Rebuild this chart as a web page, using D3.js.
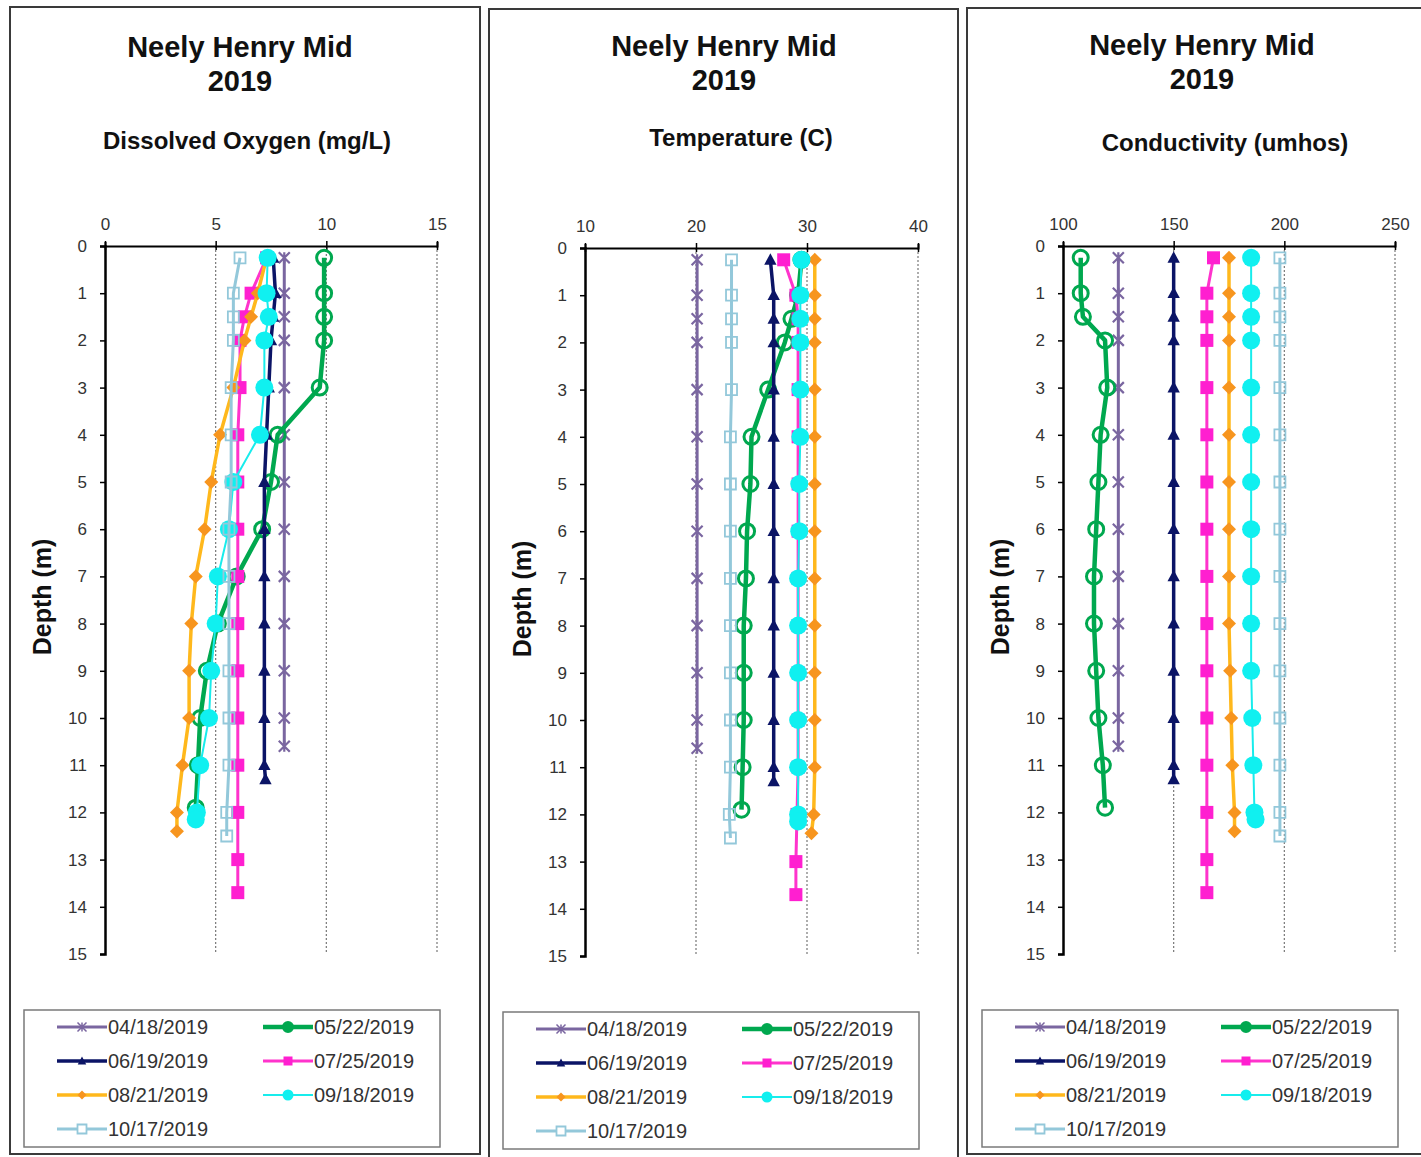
<!DOCTYPE html>
<html>
<head>
<meta charset="utf-8">
<script src="https://cdn.jsdelivr.net/npm/d3@7"></script>
<style>
  body { margin: 0; background: #fff; }
  svg text { font-family: "Liberation Sans", Arial, sans-serif; }
</style>
</head>
<body>
<svg id="chart" width="1421" height="1157"></svg>
<script>
// ---- data ----
const dates = ["04/18/2019", "05/22/2019", "06/19/2019", "07/25/2019",
               "08/21/2019", "09/18/2019", "10/17/2019"];

const depthTicks = [0, 1, 2, 3, 4, 5, 6, 7, 8, 9, 10, 11, 12, 13, 14, 15];
const doTicks = [0, 5, 10, 15];
const tempTicks = [10, 20, 30, 40];
const condTicks = [100, 150, 200, 250];

// depths (m) of each profile
const depth0418 = [0.25, 1, 1.5, 2, 3, 4, 5, 6, 7, 8, 9, 10, 10.6];
const depth0522 = [0.25, 1, 1.5, 2, 3, 4, 5, 6, 7, 8, 9, 10, 11, 11.9];
const depth0619 = [0.25, 1, 1.5, 2, 3, 4, 5, 6, 7, 8, 9, 10, 11, 11.3];
const depth0725 = [0.25, 1, 1.5, 2, 3, 4, 5, 6, 7, 8, 9, 10, 11, 12, 13, 13.7];
const depth0821 = [0.25, 1, 1.5, 2, 3, 4, 5, 6, 7, 8, 9, 10, 11, 12, 12.4];
const depth0918 = [0.25, 1, 1.5, 2, 3, 4, 5, 6, 7, 8, 9, 10, 11, 12, 12.15];
const depth1017 = [0.25, 1, 1.5, 2, 3, 4, 5, 6, 7, 8, 9, 10, 11, 12, 12.5];

// dissolved oxygen (mg/L)
const do0418 = [8.1, 8.1, 8.1, 8.1, 8.1, 8.1, 8.1, 8.1, 8.1, 8.1, 8.1, 8.1, 8.1];
const do0522 = [9.9, 9.9, 9.9, 9.9, 9.7, 7.8, 7.5, 7.1, 5.95, 5.1, 4.6, 4.3, 4.2, 4.1];
const do0619 = [7.6, 7.7, 7.6, 7.5, 7.4, 7.3, 7.2, 7.2, 7.2, 7.2, 7.2, 7.2, 7.2, 7.25];
const do0725 = [7.3, 6.6, 6.3, 6.1, 6.1, 6.0, 6.0, 6.0, 6.0, 6.0, 6.0, 6.0, 6.0, 6.0, 6.0, 6.0];
const do0821 = [7.3, 6.9, 6.6, 6.3, 5.8, 5.2, 4.8, 4.5, 4.1, 3.9, 3.8, 3.8, 3.5, 3.25, 3.25];
const do0918 = [7.35, 7.3, 7.4, 7.2, 7.2, 7.0, 5.8, 5.6, 5.1, 5.0, 4.8, 4.7, 4.3, 4.15, 4.1];
const do1017 = [6.1, 5.8, 5.8, 5.8, 5.7, 5.7, 5.7, 5.6, 5.6, 5.6, 5.6, 5.6, 5.6, 5.5, 5.5];

// temperature (C)
const temp0418 = [20.1, 20.1, 20.1, 20.1, 20.1, 20.1, 20.1, 20.1, 20.1, 20.1, 20.1, 20.1, 20.1];
const temp0522 = [29.5, 29.2, 28.6, 28.0, 26.5, 25.0, 24.9, 24.6, 24.5, 24.3, 24.3, 24.3, 24.2, 24.1];
const temp0619 = [26.7, 27.0, 27.0, 27.0, 27.0, 27.0, 27.0, 27.0, 27.0, 27.0, 27.0, 27.0, 27.0, 27.0];
const temp0725 = [27.9, 29.0, 29.2, 29.2, 29.2, 29.2, 29.2, 29.2, 29.2, 29.2, 29.2, 29.2, 29.2, 29.1, 29.0, 29.0];
const temp0821 = [30.7, 30.7, 30.7, 30.7, 30.7, 30.7, 30.7, 30.7, 30.7, 30.7, 30.7, 30.7, 30.7, 30.6, 30.4];
const temp0918 = [29.5, 29.4, 29.4, 29.4, 29.4, 29.4, 29.3, 29.3, 29.2, 29.2, 29.2, 29.2, 29.2, 29.2, 29.2];
const temp1017 = [23.2, 23.2, 23.2, 23.2, 23.2, 23.1, 23.1, 23.1, 23.1, 23.1, 23.1, 23.1, 23.1, 23.0, 23.1];

// conductivity (umhos)
const cond0418 = [125, 125, 125, 125, 125, 125, 125, 125, 125, 125, 125, 125, 125];
const cond0522 = [108, 108, 109, 119, 120, 117, 116, 115, 114, 114, 115, 116, 118, 119];
const cond0619 = [150, 150, 150, 150, 150, 150, 150, 150, 150, 150, 150, 150, 150, 150];
const cond0725 = [168, 165, 165, 165, 165, 165, 165, 165, 165, 165, 165, 165, 165, 165, 165, 165];
const cond0821 = [175, 175, 175, 175, 175, 175, 175, 175, 175, 175, 175.5, 176, 176.5, 177.5, 177.5];
const cond0918 = [185, 185, 185, 185, 185, 185, 185, 185, 185, 185, 185, 185.5, 186, 186.5, 187];
const cond1017 = [198, 198, 198, 198, 198, 198, 198, 198, 198, 198, 198, 198, 198, 198, 198];

const depthsByDate = [depth0418, depth0522, depth0619, depth0725, depth0821, depth0918, depth1017];
const valuesByParam = {
  do:   [do0418, do0522, do0619, do0725, do0821, do0918, do1017],
  temp: [temp0418, temp0522, temp0619, temp0725, temp0821, temp0918, temp1017],
  cond: [cond0418, cond0522, cond0619, cond0725, cond0821, cond0918, cond1017]
};

// ---- styling ----
const seriesStyle = [
  {color: "#7a66a0", mark: "#7a66a0", width: 3,   marker: "star"},
  {color: "#00a84f", mark: "#00a84f", width: 4.5, marker: "ring"},
  {color: "#0b1466", mark: "#0b1466", width: 3.5, marker: "triangle"},
  {color: "#ff33cc", mark: "#ff1fd0", width: 3,   marker: "square"},
  {color: "#ffb81c", mark: "#f7951e", width: 3.5, marker: "diamond"},
  {color: "#18ecec", mark: "#10f0f0", width: 2,   marker: "dot"},
  {color: "#93c8da", mark: "#93c8da", width: 3,   marker: "opensquare"}
];

const panels = [
  {param: "do", ticks: doTicks, box: [10, 7, 480, 1154], plot: [105, 246, 437, 954],
   titleX: 240, titleY: 57, subtitle: "Dissolved Oxygen (mg/L)", subX: 247, subY: 149, legend: [24, 1010]},
  {param: "temp", ticks: tempTicks, box: [489, 9, 958, 1162], plot: [585, 248, 918, 956],
   titleX: 724, titleY: 56, subtitle: "Temperature (C)", subX: 741, subY: 146, legend: [503, 1012]},
  {param: "cond", ticks: condTicks, box: [967, 8, 1430, 1154], plot: [1063, 246, 1395, 954],
   titleX: 1202, titleY: 55, subtitle: "Conductivity (umhos)", subX: 1225, subY: 151, legend: [982, 1010]}
];

function markerPath(type, s) {
  switch (type) {
    case "star":
      return `M${-s},${-s}L${s},${s}M${-s},${s}L${s},${-s}M0,${-s}L0,${s}`;
    case "ring":
    case "dot":
      return `M${s},0A${s},${s} 0 1,1 ${-s},0A${s},${s} 0 1,1 ${s},0Z`;
    case "triangle":
      return `M0,${-s}L${s * 0.95},${s * 0.75}L${-s * 0.95},${s * 0.75}Z`;
    case "square":
    case "opensquare":
      return `M${-s},${-s}H${s}V${s}H${-s}Z`;
    case "diamond":
      return `M0,${-s}L${s},0L0,${s}L${-s},0Z`;
  }
}

const markerSize = {star: 5.5, ring: 7.5, triangle: 6.5, square: 6.5, diamond: 7, dot: 9, opensquare: 5.5};

function styleMarker(sel, st, small) {
  const t = st.marker;
  if (t === "star") {
    sel.attr("fill", "none").attr("stroke", st.mark).attr("stroke-width", small ? 1.5 : 2.2);
  } else if (t === "ring") {
    sel.attr("fill", small ? st.mark : "none").attr("stroke", st.mark).attr("stroke-width", 3);
  } else if (t === "opensquare") {
    sel.attr("fill", small ? "#fff" : "none").attr("stroke", st.mark).attr("stroke-width", 1.8);
  } else {
    sel.attr("fill", st.mark).attr("stroke", "none");
  }
}

const svg = d3.select("#chart");

function renderPanel(p) {
  const g = svg.append("g");

  g.append("rect")
    .attr("x", p.box[0]).attr("y", p.box[1])
    .attr("width", p.box[2] - p.box[0]).attr("height", p.box[3] - p.box[1])
    .attr("fill", "none").attr("stroke", "#3a3a3a").attr("stroke-width", 2);

  g.append("text").attr("x", p.titleX).attr("y", p.titleY)
    .attr("text-anchor", "middle").attr("font-size", 29).attr("font-weight", "bold")
    .attr("fill", "#111").text("Neely Henry Mid");
  g.append("text").attr("x", p.titleX).attr("y", p.titleY + 34)
    .attr("text-anchor", "middle").attr("font-size", 29).attr("font-weight", "bold")
    .attr("fill", "#111").text("2019");
  g.append("text").attr("x", p.subX).attr("y", p.subY)
    .attr("text-anchor", "middle").attr("font-size", 24).attr("font-weight", "bold")
    .attr("fill", "#111").text(p.subtitle);

  const x = d3.scaleLinear()
    .domain([p.ticks[0], p.ticks[p.ticks.length - 1]])
    .range([p.plot[0], p.plot[2]]);
  const y = d3.scaleLinear().domain([0, 15]).range([p.plot[1], p.plot[3]]);

  // dotted vertical gridlines
  g.append("g").selectAll("line")
    .data(p.ticks.slice(1))
    .join("line")
    .attr("x1", (d) => x(d)).attr("x2", (d) => x(d))
    .attr("y1", y(0)).attr("y2", y(15))
    .attr("stroke", "#777").attr("stroke-width", 1.2)
    .attr("stroke-dasharray", "2,2");

  // top x axis
  const xAxis = g.append("g")
    .attr("transform", `translate(0,${y(0)})`)
    .call(d3.axisTop(x).tickValues(p.ticks).tickSizeOuter(0).tickSize(4).tickPadding(12));
  xAxis.select(".domain").attr("stroke", "#000").attr("stroke-width", 2);
  xAxis.selectAll(".tick line").attr("y1", 4).attr("y2", -5).attr("stroke", "#000").attr("stroke-width", 1.5);
  xAxis.selectAll(".tick text").attr("font-size", 17).attr("fill", "#333")
    .style("font-family", '"Liberation Sans", Arial, sans-serif');

  // left depth axis
  const yAxis = g.append("g")
    .attr("transform", `translate(${x.range()[0]},0)`)
    .call(d3.axisLeft(y).tickValues(depthTicks).tickFormat(d3.format("d"))
      .tickSizeOuter(0).tickSize(5).tickPadding(13));
  yAxis.select(".domain").attr("stroke", "#000").attr("stroke-width", 2.5);
  yAxis.selectAll(".tick line").attr("stroke", "#000").attr("stroke-width", 1.5);
  yAxis.selectAll(".tick text").attr("font-size", 17).attr("fill", "#333")
    .style("font-family", '"Liberation Sans", Arial, sans-serif');

  g.append("text")
    .attr("transform", `translate(${p.plot[0] - 54},${(y(0) + y(15)) / 2 - 3}) rotate(-90)`)
    .attr("text-anchor", "middle").attr("font-size", 25).attr("font-weight", "bold")
    .attr("fill", "#111").text("Depth (m)");

  // series
  const line = d3.line().x((d) => x(d.v)).y((d) => y(d.z));
  const values = valuesByParam[p.param];
  dates.forEach((date, i) => {
    const st = seriesStyle[i];
    const pts = depthsByDate[i].map((z, k) => ({z: z, v: values[i][k]}));
    const sg = g.append("g");
    sg.append("path").datum(pts)
      .attr("d", line).attr("fill", "none")
      .attr("stroke", st.color).attr("stroke-width", st.width)
      .attr("stroke-linejoin", "round");
    sg.selectAll("path.m").data(pts).join("path")
      .attr("class", "m")
      .attr("transform", (d) => `translate(${x(d.v)},${y(d.z)})`)
      .attr("d", markerPath(st.marker, markerSize[st.marker]))
      .call(styleMarker, st, false);
  });

  // legend
  const lx = p.legend[0], ly = p.legend[1];
  g.append("rect").attr("x", lx).attr("y", ly).attr("width", 416).attr("height", 137)
    .attr("fill", "#fff").attr("stroke", "#7a7a7a").attr("stroke-width", 1.5);
  dates.forEach((date, i) => {
    const st = seriesStyle[i];
    const cx = lx + 33 + (i % 2) * 206;
    const cy = ly + 17 + Math.floor(i / 2) * 34;
    const lg = g.append("g");
    lg.append("line").attr("x1", cx).attr("x2", cx + 50).attr("y1", cy).attr("y2", cy)
      .attr("stroke", st.color).attr("stroke-width", st.width);
    lg.append("path").attr("transform", `translate(${cx + 25},${cy})`)
      .attr("d", markerPath(st.marker, st.marker === "dot" ? 5.5 : 4.5))
      .call(styleMarker, st, true);
    lg.append("text").attr("x", cx + 51).attr("y", cy + 7)
      .attr("font-size", 20).attr("fill", "#333").text(date);
  });
}

panels.forEach(renderPanel);
</script>
</body>
</html>
